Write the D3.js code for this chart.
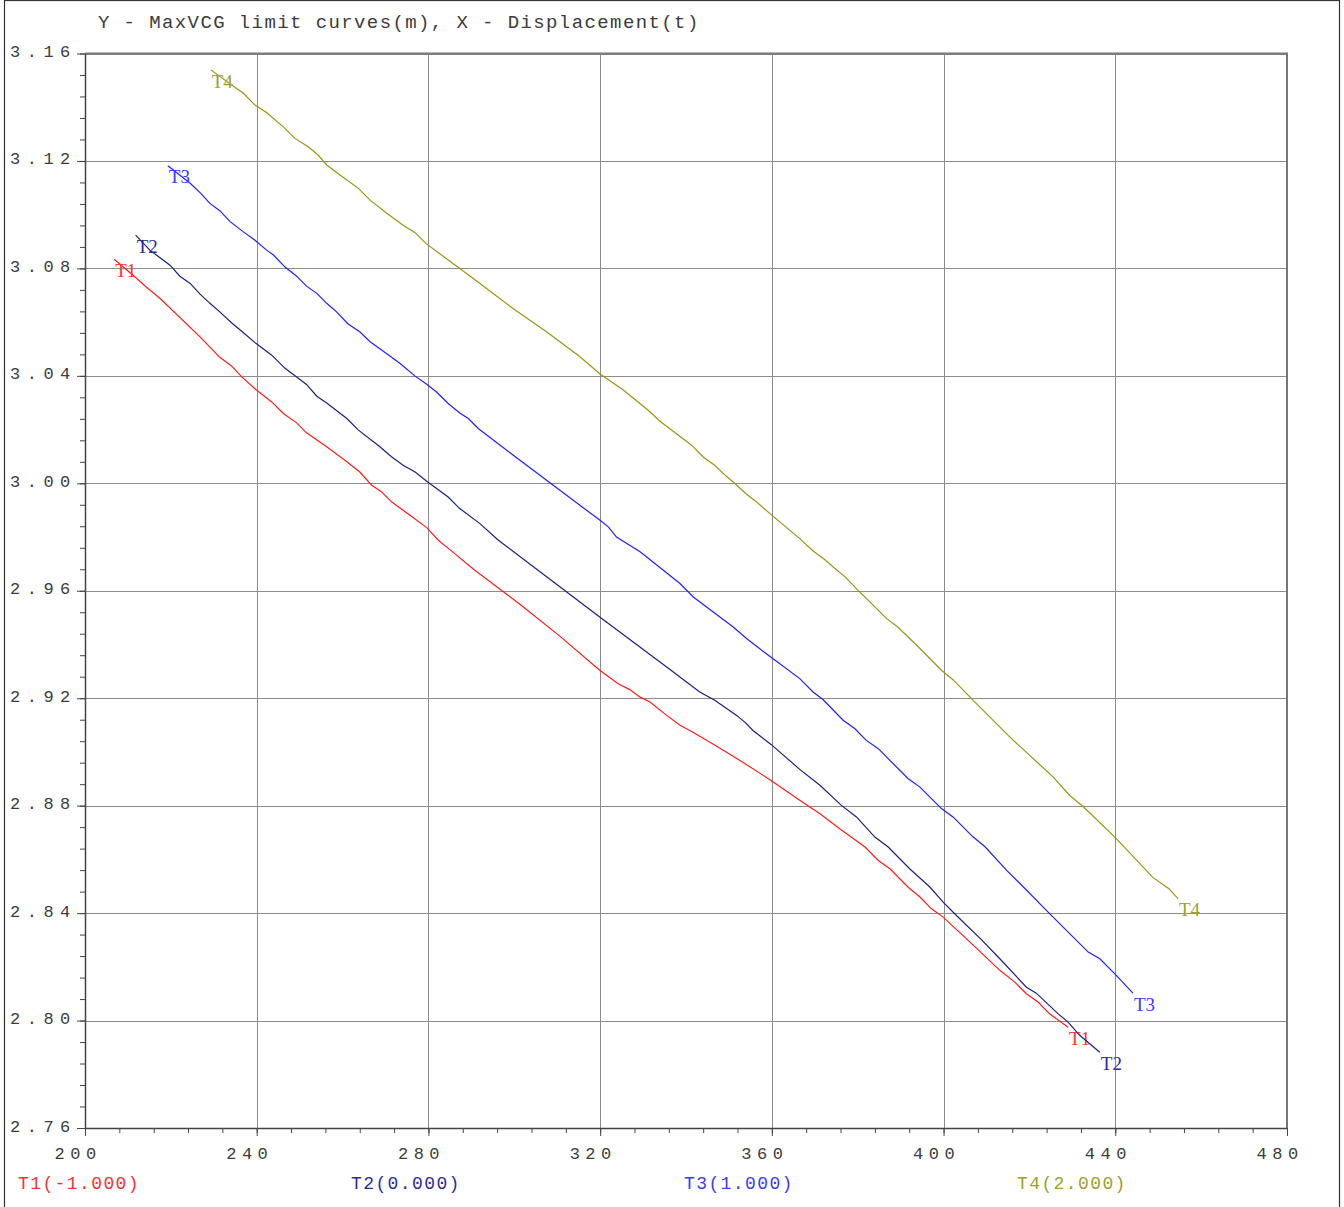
<!DOCTYPE html>
<html>
<head>
<meta charset="utf-8">
<script src="https://cdn.jsdelivr.net/npm/d3@7"></script>
<style>
  body { margin: 0; background: #fff; }
  svg { display: block; }
</style>
</head>
<body>
<svg id="chart" width="1344" height="1207"></svg>
<script>
// Axis ticks
const xTicks = [200, 240, 280, 320, 360, 400, 440, 480];
const yTicks = [2.76, 2.80, 2.84, 2.88, 2.92, 2.96, 3.00, 3.04, 3.08, 3.12, 3.16];

// Curve names and their parameter values
const seriesNames = ["T1", "T2", "T3", "T4"];
const seriesParams = ["-1.000", "0.000", "1.000", "2.000"];

// MaxVCG limit curves: displacement (t) and max VCG (m)
const t1X = [206.8, 211.6, 214.4, 217.5, 226.8, 231.4, 234.2, 236.5, 239.8, 243.5, 246.2, 249.3, 251.6, 256.3, 261.0, 264.0, 266.8, 269.1, 271.4, 275.7, 279.6, 282.3, 285.0, 290.8, 301.3, 310.6, 319.9, 324.2, 326.9, 329.3, 331.6, 335.5, 338.6, 340.9, 345.6, 352.5, 359.8, 366.5, 371.2, 375.8, 381.7, 384.8, 387.5, 391.7, 394.5, 397.2, 399.9, 405.3, 413.1, 416.6, 419.3, 422.0, 424.7, 429.0];
const t1Y = [3.0834, 3.0769, 3.0729, 3.0688, 3.0545, 3.0469, 3.0436, 3.0396, 3.0349, 3.0303, 3.0260, 3.0225, 3.0188, 3.0136, 3.0080, 3.0042, 2.9993, 2.9968, 2.9931, 2.9881, 2.9835, 2.9788, 2.9753, 2.9676, 2.9550, 2.9431, 2.9304, 2.9254, 2.9232, 2.9204, 2.9186, 2.9136, 2.9099, 2.9080, 2.9036, 2.8969, 2.8894, 2.8820, 2.8770, 2.8714, 2.8646, 2.8596, 2.8565, 2.8497, 2.8460, 2.8416, 2.8385, 2.8305, 2.8187, 2.8143, 2.8100, 2.8069, 2.8025, 2.7975];

const t2X = [211.8, 215.1, 219.8, 222.1, 224.5, 226.8, 229.1, 231.4, 234.2, 236.5, 239.8, 243.5, 246.6, 249.3, 251.6, 254.0, 256.3, 261.0, 263.7, 268.7, 271.4, 274.1, 276.9, 279.6, 284.6, 287.3, 292.0, 296.3, 308.3, 319.9, 327.7, 335.5, 343.2, 346.7, 351.8, 353.7, 355.6, 359.8, 366.5, 371.2, 376.2, 379.7, 384.0, 387.1, 392.1, 396.8, 399.9, 403.0, 408.8, 413.1, 419.3, 421.6, 426.7, 429.0, 431.7, 436.4];
const t2Y = [3.0924, 3.0868, 3.0812, 3.0771, 3.0744, 3.0704, 3.0670, 3.0638, 3.0597, 3.0566, 3.0521, 3.0477, 3.0428, 3.0396, 3.0368, 3.0324, 3.0299, 3.0241, 3.0198, 3.0136, 3.0099, 3.0067, 3.0042, 3.0008, 2.9949, 2.9906, 2.9850, 2.9788, 2.9643, 2.9502, 2.9409, 2.9316, 2.9223, 2.9192, 2.9136, 2.9111, 2.9080, 2.9028, 2.8935, 2.8876, 2.8801, 2.8758, 2.8683, 2.8646, 2.8565, 2.8497, 2.8441, 2.8391, 2.8301, 2.8230, 2.8124, 2.8102, 2.8025, 2.7994, 2.7945, 2.7882];

const t3X = [219.3, 224.5, 226.8, 229.1, 231.4, 233.8, 236.9, 239.6, 242.3, 243.9, 246.6, 249.3, 251.6, 254.0, 256.3, 258.6, 261.3, 264.0, 266.4, 269.1, 273.4, 276.9, 279.6, 281.9, 284.6, 287.3, 289.3, 291.6, 299.7, 308.3, 319.9, 321.9, 323.8, 329.3, 338.6, 341.7, 351.0, 354.1, 359.5, 366.5, 369.6, 371.9, 376.6, 379.3, 382.0, 384.8, 391.7, 394.5, 399.5, 402.2, 406.9, 409.6, 414.7, 417.8, 424.7, 433.7, 436.4, 439.9, 444.1];
const t3Y = [3.1182, 3.1117, 3.1082, 3.1042, 3.1015, 3.0974, 3.0936, 3.0905, 3.0868, 3.0850, 3.0805, 3.0771, 3.0734, 3.0707, 3.0670, 3.0638, 3.0593, 3.0564, 3.0527, 3.0496, 3.0446, 3.0399, 3.0369, 3.0340, 3.0297, 3.0262, 3.0241, 3.0204, 3.0105, 3.0002, 2.9863, 2.9838, 2.9800, 2.9745, 2.9627, 2.9577, 2.9465, 2.9422, 2.9356, 2.9273, 2.9223, 2.9195, 2.9118, 2.9087, 2.9043, 2.9012, 2.8901, 2.8869, 2.8789, 2.8758, 2.8683, 2.8648, 2.8559, 2.8510, 2.8398, 2.8255, 2.8230, 2.8174, 2.8102];

const t4X = [229.3, 234.5, 236.9, 239.6, 242.3, 246.2, 248.9, 252.0, 254.3, 256.3, 259.4, 263.7, 266.4, 270.3, 274.1, 276.9, 279.4, 286.9, 292.0, 299.7, 307.5, 315.3, 319.9, 325.4, 331.2, 334.1, 341.3, 344.0, 346.7, 349.4, 351.4, 354.1, 356.4, 359.5, 366.5, 369.6, 372.3, 374.7, 377.2, 379.8, 386.7, 389.4, 394.5, 399.5, 402.2, 406.9, 415.4, 425.5, 429.4, 432.5, 439.9, 448.8, 452.5, 454.6];
const t4Y = [3.1539, 3.1479, 3.1452, 3.1408, 3.1380, 3.1327, 3.1284, 3.1253, 3.1222, 3.1185, 3.1148, 3.1098, 3.1054, 3.1005, 3.0961, 3.0933, 3.0893, 3.0804, 3.0744, 3.0651, 3.0564, 3.0471, 3.0408, 3.0347, 3.0272, 3.0229, 3.0142, 3.0098, 3.0067, 3.0026, 2.9999, 2.9959, 2.9931, 2.9888, 2.9794, 2.9748, 2.9716, 2.9683, 2.9650, 2.9606, 2.9497, 2.9464, 2.9385, 2.9304, 2.9269, 2.9192, 2.9056, 2.8907, 2.8838, 2.8797, 2.8683, 2.8532, 2.8491, 2.8454];

const seriesX = [t1X, t2X, t3X, t4X];
const seriesY = [t1Y, t2Y, t3Y, t4Y];

const lineColors = ["#ff1a1a", "#1e1e80", "#1f1fff", "#969612"];
const textColors = ["#ff3030", "#2c2c96", "#3a3aff", "#a0a02a"];

const monoFont = "'Liberation Mono', 'DejaVu Sans Mono', monospace";
const serifFont = "'Liberation Serif', 'DejaVu Serif', serif";

const svg = d3.select("#chart");

// Page frame
svg.append("rect")
  .attr("x", 4.5).attr("y", 0.5)
  .attr("width", 1335).attr("height", 1230)
  .attr("fill", "none").attr("stroke", "#333").attr("stroke-width", 1.2);

const plotLeft = 85, plotRight = 1287, plotTop = 53.5, plotBottom = 1128;
const x = d3.scaleLinear().domain([200, 480]).range([plotLeft, plotRight]);
const y = d3.scaleLinear().domain([2.76, 3.16]).range([plotBottom, plotTop]);

// Title
svg.append("text")
  .attr("x", 98).attr("y", 28)
  .attr("font-family", monoFont).attr("font-size", 19)
  .attr("letter-spacing", 1.4).attr("fill", "#3c3c3c")
  .text("Y - MaxVCG limit curves(m), X - Displacement(t)");

// Grid
const grid = svg.append("g").attr("shape-rendering", "crispEdges");
grid.append("g")
  .attr("transform", `translate(0,${plotBottom})`)
  .call(d3.axisBottom(x).tickValues(xTicks).tickSize(-(plotBottom - plotTop)).tickFormat(""))
  .call(g => g.select(".domain").remove())
  .call(g => g.selectAll("line").attr("stroke", "#8c8c8c").attr("stroke-width", 1));
grid.append("g")
  .attr("transform", `translate(${plotLeft},0)`)
  .call(d3.axisLeft(y).tickValues(yTicks).tickSize(-(plotRight - plotLeft)).tickFormat(""))
  .call(g => g.select(".domain").remove())
  .call(g => g.selectAll("line").attr("stroke", "#8c8c8c").attr("stroke-width", 1));

// Plot frame: top and right edges
svg.append("path")
  .attr("d", `M${plotLeft},${plotTop}H${plotRight}V${plotBottom}`)
  .attr("fill", "none").attr("stroke", "#777").attr("stroke-width", 2);

// Minor ticks
const xMinor = d3.range(200, 481, 8);
const yMinor = d3.range(0, 51).map(i => 2.76 + i * 0.008);
svg.append("g")
  .attr("transform", `translate(0,${plotBottom})`)
  .call(d3.axisBottom(x).tickValues(xMinor).tickSize(5).tickFormat(""))
  .call(g => g.selectAll("line").attr("stroke", "#444"))
  .call(g => g.select(".domain").remove());
svg.append("g")
  .attr("transform", `translate(${plotLeft},0)`)
  .call(d3.axisLeft(y).tickValues(yMinor).tickSize(5).tickFormat(""))
  .call(g => g.selectAll("line").attr("stroke", "#444"))
  .call(g => g.select(".domain").remove());

// Major ticks and labels
const xAxis = svg.append("g")
  .attr("transform", `translate(0,${plotBottom})`)
  .call(d3.axisBottom(x).tickValues(xTicks).tickSize(8).tickSizeOuter(0).tickFormat(d3.format("d")));
xAxis.select(".domain").attr("stroke", "#444").attr("stroke-width", 1.5);
xAxis.selectAll("line").attr("stroke", "#444");
xAxis.selectAll("text")
  .attr("font-family", monoFont).attr("font-size", 17)
  .attr("letter-spacing", 5.5).attr("fill", "#3c3c3c")
  .attr("text-anchor", "start").attr("x", -31).attr("y", 31).attr("dy", 0);

const yAxis = svg.append("g")
  .attr("transform", `translate(${plotLeft},0)`)
  .call(d3.axisLeft(y).tickValues(yTicks).tickSize(8).tickSizeOuter(0).tickFormat(d3.format(".2f")));
yAxis.select(".domain").attr("stroke", "#444").attr("stroke-width", 1.5);
yAxis.selectAll("line").attr("stroke", "#444");
yAxis.selectAll("text")
  .attr("font-family", monoFont).attr("font-size", 17)
  .attr("letter-spacing", 6.5).attr("fill", "#3c3c3c")
  .attr("text-anchor", "start").attr("x", -75).attr("dy", 3);

// Curves
const line = d3.line().x(d => x(d[0])).y(d => y(d[1]));
seriesNames.forEach((name, i) => {
  const pts = seriesX[i].map((v, j) => [v, seriesY[i][j]]);
  svg.append("path")
    .datum(pts)
    .attr("d", line)
    .attr("fill", "none")
    .attr("stroke", lineColors[i])
    .attr("stroke-width", 1.2);
  const first = pts[0], last = pts[pts.length - 1];
  [first, last].forEach(p => {
    svg.append("text")
      .attr("x", x(p[0]) + 1).attr("y", y(p[1]) + 11)
      .attr("dy", "0.35em")
      .attr("font-family", serifFont).attr("font-size", 19)
      .attr("fill", textColors[i])
      .text(name);
  });
});

// Legend
const legendX = [18, 351, 684, 1017];
seriesNames.forEach((name, i) => {
  svg.append("text")
    .attr("x", legendX[i]).attr("y", 1189)
    .attr("font-family", monoFont).attr("font-size", 18)
    .attr("letter-spacing", 1.4)
    .attr("fill", textColors[i])
    .text(`${name}(${seriesParams[i]})`);
});
</script>
</body>
</html>
